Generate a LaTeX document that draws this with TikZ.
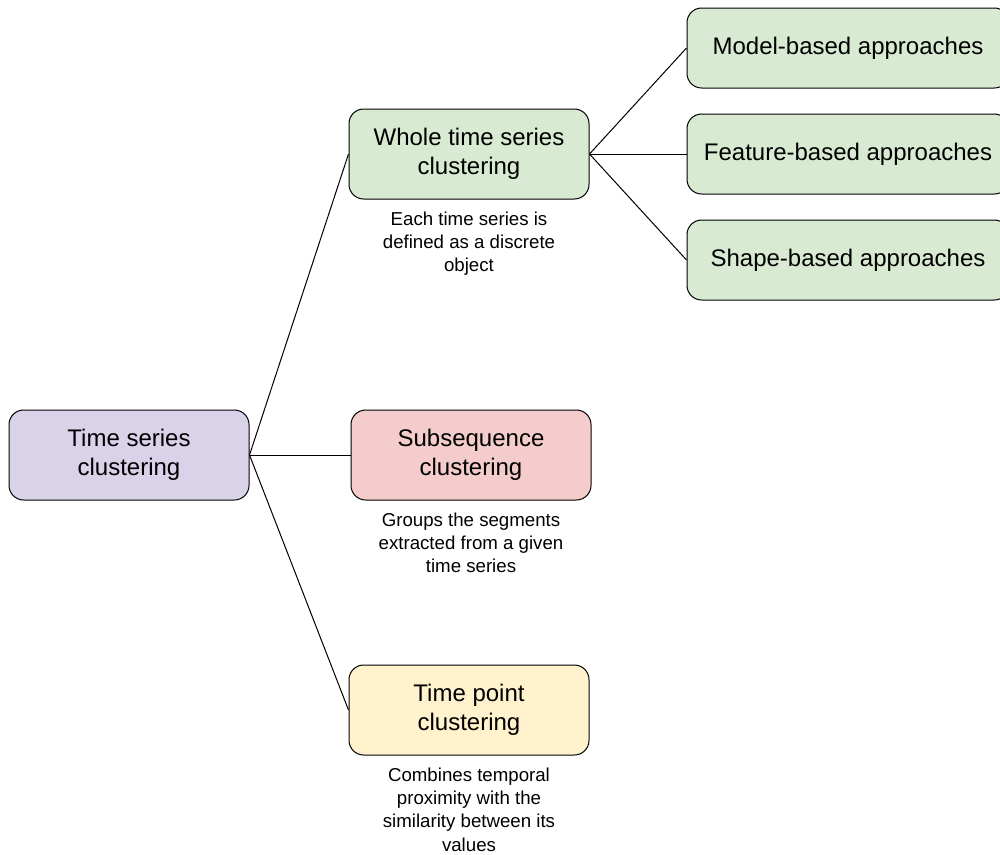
\documentclass[tikz,border=0pt]{standalone}
\usepackage{fontspec}
\setmainfont{Liberation Sans}
\usetikzlibrary{positioning}

\definecolor{rootfill}{HTML}{D9D2E9}
\definecolor{wholefill}{HTML}{D9EAD3}
\definecolor{subfill}{HTML}{F4CCCC}
\definecolor{pointfill}{HTML}{FFF2CC}

\tikzset{
	box/.style={draw=black, line width=0.75pt, rounded corners=11pt, minimum width=180pt, minimum height=67.5pt, align=center, font=\fontsize{18}{21.5}\selectfont},
	widebox/.style={box, minimum width=241.5pt, minimum height=60pt},
	note/.style={align=center, inner sep=0pt, font=\fontsize{14}{17.5}\selectfont},
	link/.style={line width=0.75pt}
}

\begin{document}
\begin{tikzpicture}[x=0.75pt, y=-0.75pt]
			%%%%% START %%%%%
			\useasboundingbox (0, 0) rectangle (1000, 854);
			
			\node[box, fill=rootfill] (root) at (129, 455) {Time series\\clustering};
			
			\node[box, fill=wholefill] (whole) at (469, 154) {Whole time series\\clustering};
			\node[box, fill=subfill] (subseq) at (471, 455) {Subsequence\\clustering};
			\node[box, fill=pointfill] (tpoint) at (469, 710) {Time point\\clustering};
			
			\node[note, below=9pt of whole] (wholenote) {Each time series is\\defined as a discrete\\object};
			\node[note, below=9pt of subseq] (subseqnote) {Groups the segments\\extracted from a given\\time series};
			\node[note, below=9pt of tpoint] (tpointnote) {Combines temporal\\proximity with the\\similarity between its\\values};
			
			\node[widebox, fill=wholefill] (model) at (848, 48) {Model-based approaches};
			\node[widebox, fill=wholefill] (feature) at (848, 154) {Feature-based approaches};
			\node[widebox, fill=wholefill] (shape) at (848, 260) {Shape-based approaches};
			
			\draw[link] (root.east) -- (whole.west);
			\draw[link] (root.east) -- (subseq.west);
			\draw[link] (root.east) -- (tpoint.west);
			
			\draw[link] (whole.east) -- (model.west);
			\draw[link] (whole.east) -- (feature.west);
			\draw[link] (whole.east) -- (shape.west);
			
			%%%%% END %%%%%
\end{tikzpicture}
\end{document}
